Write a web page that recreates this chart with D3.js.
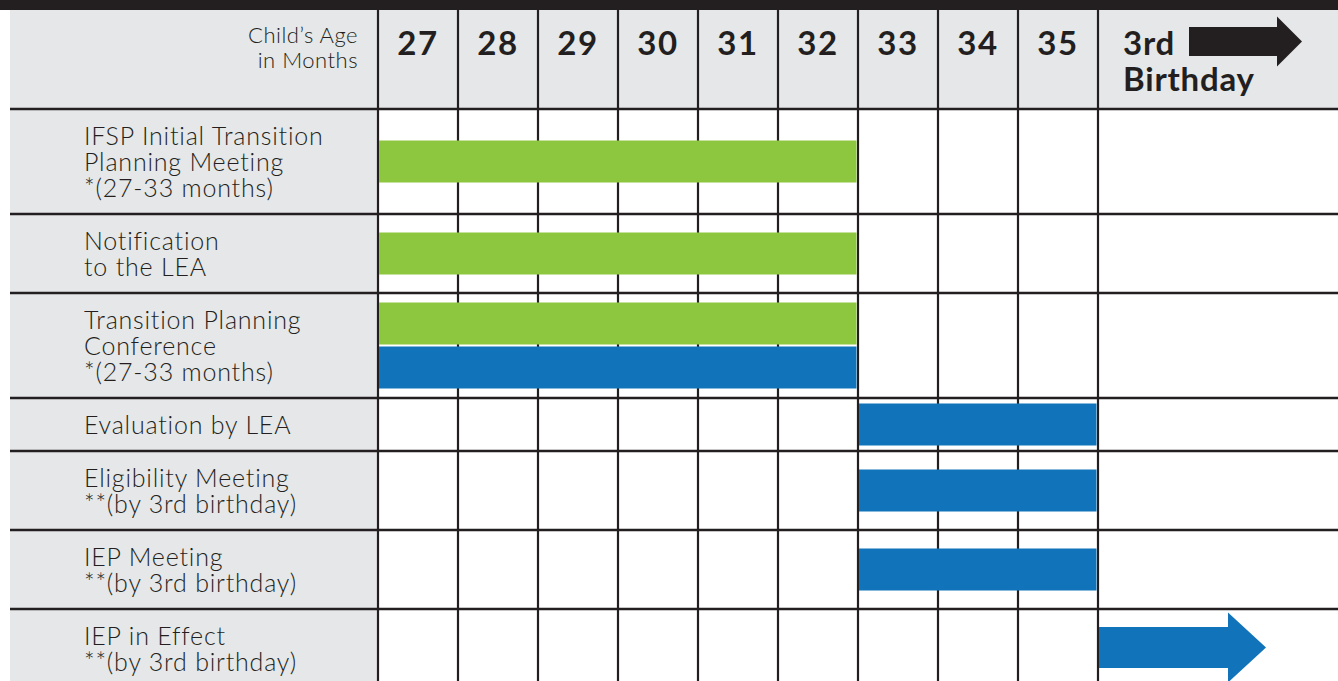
<!DOCTYPE html>
<html>
<head>
<meta charset="utf-8">
<script src="https://cdn.jsdelivr.net/npm/d3@7"></script>
<style>
  body { margin: 0; background: #fff; }
  svg { display: block; font-family: Lato, "Open Sans", sans-serif; }
</style>
</head>
<body>
<svg id="chart" width="1338" height="681"></svg>
<script>
const months = [27, 28, 29, 30, 31, 32, 33, 34, 35];
const endLabel = ["3rd", "Birthday"];
const axisTitle = ["Child\u2019s Age", "in Months"];
const steps = [
  ["IFSP Initial Transition", "Planning Meeting", "*(27-33 months)"],
  ["Notification", "to the LEA"],
  ["Transition Planning", "Conference", "*(27-33 months)"],
  ["Evaluation by LEA"],
  ["Eligibility Meeting", "**(by 3rd birthday)"],
  ["IEP Meeting", "**(by 3rd birthday)"],
  ["IEP in Effect", "**(by 3rd birthday)"]
];
// [step, from month, to month, agency]
const bars = [
  [0, 27, 33, "ei"],
  [1, 27, 33, "ei"],
  [2, 27, 33, "ei"],
  [2, 27, 33, "lea"],
  [3, 33, 36, "lea"],
  [4, 33, 36, "lea"],
  [5, 33, 36, "lea"]
];
// [step, from month, agency] -> continues past the 3rd birthday
const ongoing = [[6, 36, "lea"]];

const W = 1338, H = 681;
const dark = "#231f20", gray = "#e6e7e8";
const headTop = 10, headBot = 109, labelX = 10;
const lineH = 26, barH = 42;

const svg = d3.select("svg#chart");

const x = d3.scaleLinear().domain([27, 36]).range([378, 1098]);
const color = d3.scaleOrdinal().domain(["ei", "lea"]).range(["#8dc63f", "#1174bb"]);

// row heights grow with the number of label lines
const rowH = steps.map(s => 27 + lineH * s.length);
const rowTop = [headBot, ...d3.cumsum(rowH).map(v => v + headBot)];

const arrow = (x0, x1, cy, sh, hl, hh) => {
  const xb = x1 - hl;
  return `M${x0},${cy - sh / 2}H${xb}V${cy - hh / 2}L${x1},${cy}L${xb},${cy + hh / 2}V${cy + sh / 2}H${x0}Z`;
};

// backgrounds
svg.append("rect").attr("x", 0).attr("y", 0).attr("width", W).attr("height", headTop).attr("fill", dark);
svg.append("rect").attr("x", labelX).attr("y", headTop).attr("width", W - labelX).attr("height", headBot - headTop).attr("fill", gray);
svg.append("rect").attr("x", labelX).attr("y", headBot).attr("width", x(27) - labelX).attr("height", H - headBot).attr("fill", gray);

// grid
svg.selectAll(".vline")
  .data(d3.range(27, 37))
  .enter().append("line")
  .attr("class", "vline")
  .attr("x1", d => x(d)).attr("x2", d => x(d))
  .attr("y1", headTop).attr("y2", H)
  .attr("stroke", dark).attr("stroke-width", 2.2);

svg.selectAll(".hline")
  .data(rowTop)
  .enter().append("line")
  .attr("class", "hline")
  .attr("x1", labelX).attr("x2", W)
  .attr("y1", d => d).attr("y2", d => d)
  .attr("stroke", dark).attr("stroke-width", 2.6);

// header
svg.selectAll(".month")
  .data(months)
  .enter().append("text")
  .attr("class", "month")
  .attr("x", d => (x(d) + x(d + 1)) / 2)
  .attr("y", 55)
  .attr("text-anchor", "middle")
  .attr("font-size", 33).attr("font-weight", 700)
  .attr("letter-spacing", 1.5)
  .attr("fill", dark)
  .text(d => d);

svg.append("text")
  .attr("font-size", 33).attr("font-weight", 700)
  .attr("letter-spacing", 0.8)
  .attr("fill", dark)
  .selectAll("tspan")
  .data(endLabel)
  .enter().append("tspan")
  .attr("x", x(36) + 25)
  .attr("y", (d, i) => 55 + i * 36)
  .text(d => d);

svg.append("path")
  .attr("d", arrow(x(36) + 91, x(36) + 204, 41.5, 29, 25, 50))
  .attr("fill", dark);

svg.append("text")
  .attr("text-anchor", "end")
  .attr("font-size", 22).attr("font-weight", 300)
  .attr("letter-spacing", 0.5)
  .attr("fill", dark)
  .selectAll("tspan")
  .data(axisTitle)
  .enter().append("tspan")
  .attr("x", x(27) - 20)
  .attr("y", (d, i) => 43 + i * 25)
  .text(d => d);

// row labels
svg.selectAll(".row")
  .data(steps)
  .enter().append("text")
  .attr("class", "row")
  .attr("font-size", 25).attr("font-weight", 300)
  .attr("letter-spacing", 0.8)
  .attr("fill", dark)
  .each(function (d, i) {
    const mid = rowTop[i] + rowH[i] / 2;
    d3.select(this).selectAll("tspan")
      .data(d)
      .enter().append("tspan")
      .attr("x", 84)
      .attr("y", (t, j) => mid + (j - (d.length - 1) / 2) * lineH + 9)
      .text(t => t);
  });

// bars
const slot = (b) => {
  const same = bars.filter(o => o[0] === b[0]);
  const k = same.indexOf(b), n = same.length;
  const mid = rowTop[b[0]] + rowH[b[0]] / 2;
  return mid - (n * barH + (n - 1) * 2) / 2 + k * (barH + 2);
};

svg.selectAll(".bar")
  .data(bars)
  .enter().append("rect")
  .attr("class", "bar")
  .attr("x", d => x(d[1]) + 1)
  .attr("width", d => x(d[2]) - x(d[1]) - 2.5)
  .attr("y", d => slot(d))
  .attr("height", barH)
  .attr("fill", d => color(d[3]));

svg.selectAll(".ongoing")
  .data(ongoing)
  .enter().append("path")
  .attr("class", "ongoing")
  .attr("d", d => {
    const cy = rowTop[d[0]] + rowH[d[0]] / 2 - 1;
    return arrow(x(d[1]) + 1, x(d[1]) + 168, cy, 41, 38, 70);
  })
  .attr("fill", d => color(d[2]));
</script>
</body>
</html>
